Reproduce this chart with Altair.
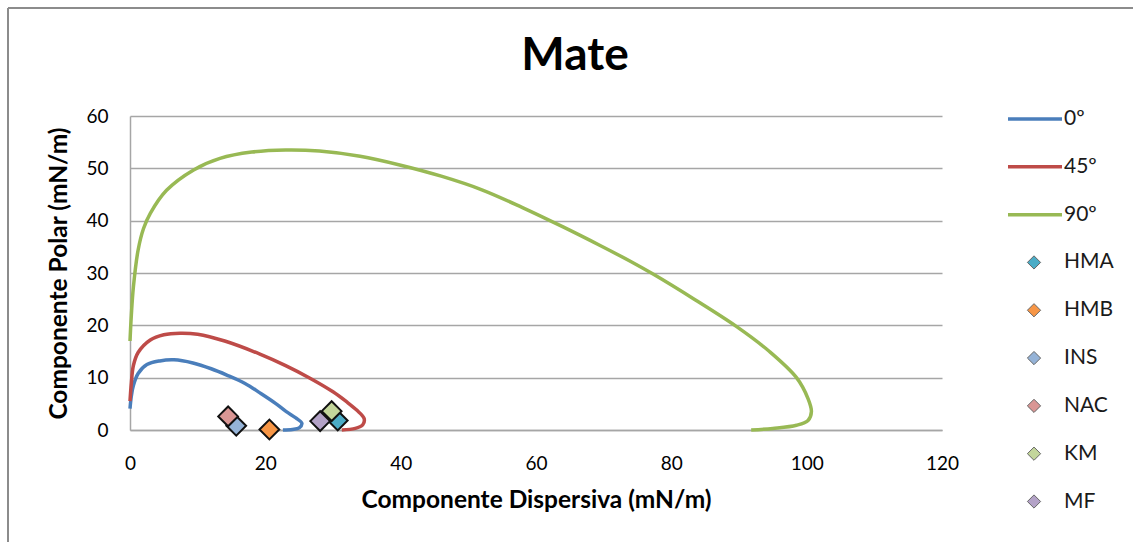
import altair as alt
import pandas as pd

FONT = "Lato"
title_text = "Mate"
x_title = "Componente Dispersiva (mN/m)"
y_title = "Componente Polar (mN/m)"
x_ticks = [0, 20, 40, 60, 80, 100, 120]
y_ticks = [0, 10, 20, 30, 40, 50, 60]

# Wetting envelope curves
angles = ["0º", "45º", "90º"]
line_colors = ["#4A7EBB", "#BE4B48", "#98B954"]

x_0 = [0, 0.2, 0.5, 1.2, 2.5, 4.4, 6.5, 9.3, 12, 14.3, 17, 19.2, 21.5, 23.1, 24.5, 25.4, 25.0, 24.0, 22.6]
y_0 = [4.1, 6.5, 8.5, 10.8, 12.5, 13.2, 13.4, 12.8, 11.7, 10.5, 8.9, 7.1, 5.1, 3.5, 2.3, 1.3, 0.4, 0.1, 0.0]

x_45 = [0, 0.2, 0.5, 1.2, 3, 5, 7.4, 10, 14, 19.2, 23, 26.6, 30, 32, 33.5, 34.6, 34.4, 33.3, 31.3]
y_45 = [5.5, 9.0, 12.3, 14.8, 17.2, 18.2, 18.5, 18.3, 17.0, 14.5, 12.3, 9.9, 7.3, 5.4, 3.8, 2.2, 1.0, 0.3, 0.0]

x_90 = [0, 0.2, 0.5, 1.2, 2, 3, 5.4, 9.4, 13.3, 18, 23, 28, 34, 40, 46, 52, 58, 64, 69.4, 74,
        77.3, 83.5, 89.6, 94.5, 98.5, 100.2, 100.7, 100.2, 98.5, 95, 91.8]
y_90 = [17.0, 22.0, 27.3, 34.4, 38.5, 41.4, 45.8, 49.7, 51.9, 53.1, 53.5, 53.3, 52.3, 50.6, 48.5, 45.9, 42.5, 38.8, 35.3, 32.2,
        29.8, 24.9, 19.8, 15.0, 10.0, 6.0, 3.5, 1.8, 0.9, 0.3, 0.0]

# Samples
samples = ["HMA", "HMB", "INS", "NAC", "KM", "MF"]
sample_x = [30.7, 20.6, 15.7, 14.5, 29.8, 28.1]
sample_y = [1.8, 0.1, 0.8, 2.6, 3.6, 1.7]
sample_colors = ["#4BACC6", "#F79646", "#95B3D7", "#D99694", "#C3D69B", "#B3A2C7"]

rows = []
for name, xs, ys in zip(angles, [x_0, x_45, x_90], [y_0, y_45, y_90]):
    for i, (a, b) in enumerate(zip(xs, ys)):
        rows.append({"series": name, "x": a, "y": b, "idx": i})
df_lines = pd.DataFrame(rows)
df_pts = pd.DataFrame({"name": samples, "x": sample_x, "y": sample_y})

legend_names = angles + samples
df_leg_lines = pd.DataFrame({"name": angles})
df_leg_pts = pd.DataFrame({"name": samples})
df_leg_text = pd.DataFrame({"name": legend_names})

W, H = 812, 314

x_enc = alt.X("x:Q", scale=alt.Scale(domain=[0, 120], nice=False, zero=False),
              axis=alt.Axis(values=x_ticks, title=x_title, grid=False, labelPadding=24,
                            titlePadding=15, labelFlush=False))
y_enc = alt.Y("y:Q", scale=alt.Scale(domain=[0, 60], nice=False, zero=False),
              axis=alt.Axis(values=y_ticks, title=y_title, grid=True, labelPadding=22,
                            titlePadding=14, labelFlush=False))

color_scale = alt.Scale(domain=angles, range=line_colors)
fill_scale = alt.Scale(domain=samples, range=sample_colors)

lines = alt.Chart(df_lines).mark_line(strokeWidth=3.5, interpolate="catmull-rom").encode(
    x=x_enc, y=y_enc,
    color=alt.Color("series:N", scale=color_scale, legend=None),
    order=alt.Order("idx:Q"),
)
points = alt.Chart(df_pts).mark_point(shape="diamond", filled=True, size=390, stroke="#111111",
                                      strokeWidth=2, fillOpacity=1, strokeOpacity=1).encode(
    x="x:Q", y="y:Q",
    fill=alt.Fill("name:N", scale=fill_scale, legend=None),
)
main = alt.layer(lines, points)

leg_y = alt.Y("name:N", sort=legend_names,
              scale=alt.Scale(type="point", domain=legend_names, range=[3, 385.5], padding=0),
              axis=None)
leg_lines = alt.Chart(df_leg_lines).mark_rule(strokeWidth=3.5).encode(
    x=alt.value(878), x2=alt.value(932), y=leg_y,
    color=alt.Color("name:N", scale=color_scale, legend=None),
)
leg_pts = alt.Chart(df_leg_pts).mark_point(shape="diamond", filled=True, size=175, stroke="#666666",
                                          strokeWidth=1, fillOpacity=1, strokeOpacity=1).encode(
    x=alt.value(904), y=leg_y,
    fill=alt.Fill("name:N", scale=fill_scale, legend=None),
)
leg_text = alt.Chart(df_leg_text).mark_text(align="left", baseline="middle", fontSize=21,
                                           font=FONT, color="#1a1a1a").encode(
    x=alt.value(934), y=leg_y, text="name:N",
)
legend = alt.layer(leg_lines, leg_pts, leg_text)

frame = alt.Chart(pd.DataFrame({"k": [0]})).mark_rule(color="#8C8C8C", strokeWidth=2).encode(
    x=alt.value(-122), y=alt.value(-108), y2=alt.value(430),
)
frame_top = alt.Chart(pd.DataFrame({"k": [0]})).mark_rule(color="#8C8C8C", strokeWidth=2).encode(
    x=alt.value(-122), x2=alt.value(1010), y=alt.value(-108),
)

chart = alt.layer(main, legend, frame, frame_top).resolve_scale(
    y="independent"
).properties(
    width=W, height=H,
    title=alt.TitleParams(title_text, fontSize=46, fontWeight="bold", font=FONT, anchor="middle",
                          dx=39, offset=-73, color="#000000"),
    autosize=alt.AutoSizeParams(type="none"),
    padding={"left": 130, "top": 116, "right": 191, "bottom": 112},
    background="white",
).configure_view(stroke=None).configure_axis(
    labelFont=FONT, titleFont=FONT, labelFontSize=19, titleFontSize=24.5, titleFontWeight="bold",
    labelColor="#000000", titleColor="#000000", domainColor="#A6A6A6", domainWidth=1.5,
    gridColor="#A6A6A6", gridWidth=1.5, ticks=False,
)

chart.save("out.html", embed_options={"renderer": "svg", "actions": False})
